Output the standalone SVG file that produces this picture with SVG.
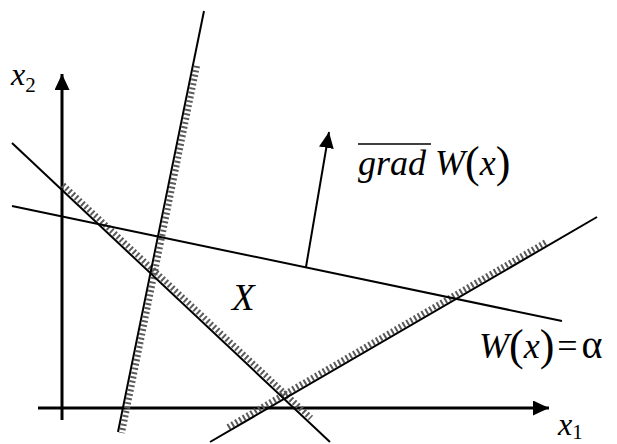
<svg xmlns="http://www.w3.org/2000/svg" width="617" height="444" viewBox="0 0 617 444">
<style>
.ln{stroke:#000;stroke-width:2;fill:none}
.ax{stroke:#000;stroke-width:3;fill:none}
.hatch{stroke:#5a5a5a;stroke-width:6;stroke-dasharray:2 2.4;fill:none}
.i{font-style:italic}
.u{font-style:normal}
.f{font-family:"Liberation Serif","Times New Roman",serif}
</style>
<defs>
<marker id="ah" viewBox="0 0 16 15" refX="16" refY="7.5" markerWidth="16" markerHeight="15" markerUnits="userSpaceOnUse" orient="auto">
<path d="M0,0 L16,7.5 L0,15 Z" fill="#000"/>
</marker>
</defs>
<g id="axes">
<line class="ax" x1="62" y1="420" x2="62" y2="74" marker-end="url(#ah)"/>
<line class="ax" x1="38" y1="408" x2="549" y2="408" marker-end="url(#ah)"/>
</g>
<g id="hatching">
<line class="hatch" x1="197" y1="66" x2="122" y2="433"/>
<line class="hatch" x1="63" y1="185" x2="311" y2="418"/>
<line class="hatch" x1="228" y1="427" x2="546" y2="242"/>
</g>
<g id="connectors">
<line class="ln" x1="204" y1="11" x2="118" y2="432"/>
<line class="ln" x1="12" y1="143" x2="330" y2="442"/>
<line class="ln" x1="12" y1="206" x2="562" y2="321"/>
<line class="ln" x1="210" y1="442" x2="597" y2="217"/>
<line class="ln" x1="306" y1="267" x2="329" y2="132" marker-end="url(#ah)"/>
</g>
<g id="labels">
<text class="f" x="11" y="85" font-size="32" font-style="italic">x<tspan class="u" font-size="21" dy="7">2</tspan></text>
<text class="f" x="558" y="435" font-size="32" font-style="italic">x<tspan class="u" font-size="21" dy="4">1</tspan></text>
<text class="f" x="358" y="175" font-size="36"><tspan class="i">grad</tspan> <tspan class="i">W</tspan><tspan font-size="44" dy="2">(</tspan><tspan class="i" dy="-2">x</tspan><tspan font-size="44" dy="2">)</tspan></text>
<line x1="358" y1="144" x2="431" y2="144" stroke="#000" stroke-width="1.5"/>
<text class="f" x="232" y="310" font-size="37" font-style="italic">X</text>
<text class="f" x="479" y="358" font-size="36"><tspan class="i">W</tspan><tspan font-size="44" dy="2">(</tspan><tspan class="i" dy="-2">x</tspan><tspan font-size="44" dy="2">)</tspan><tspan dy="-2" dx="3">=</tspan><tspan dx="4" font-size="40">α</tspan></text>
</g>
</svg>
